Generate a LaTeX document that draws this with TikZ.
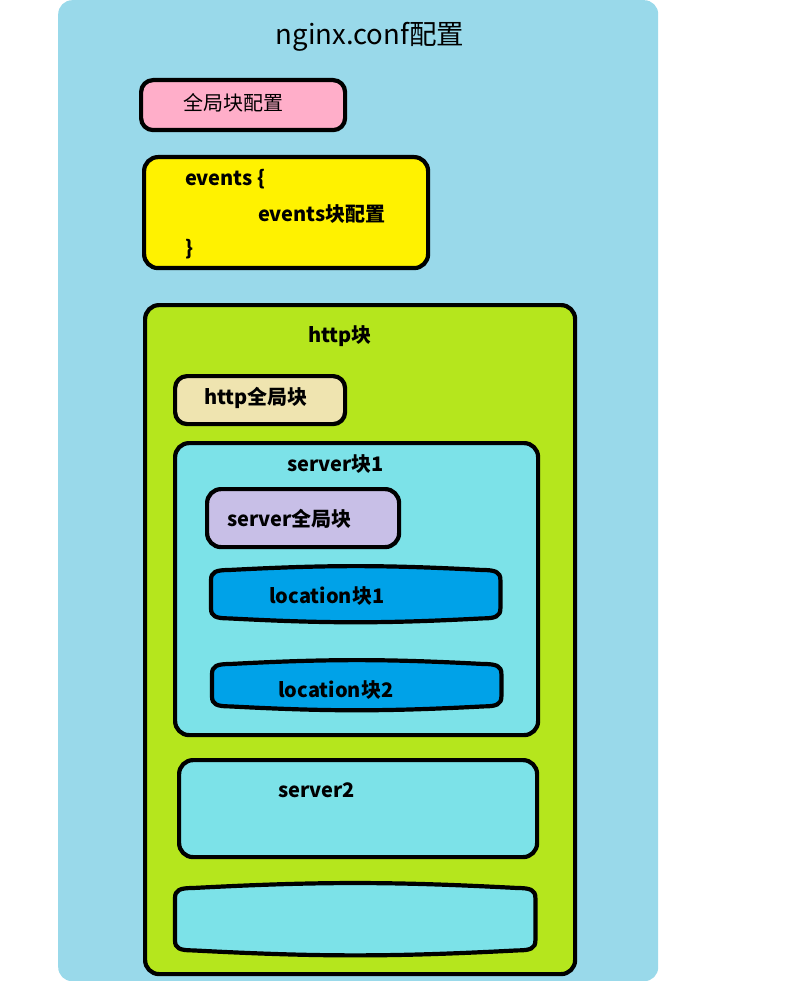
\documentclass[tikz,border=0pt]{standalone}
\usepackage{fontspec}
\setmainfont{Noto Sans CJK SC}
\usetikzlibrary{positioning,calc}

\definecolor{confblue}{HTML}{99D9EA}
\definecolor{globpink}{HTML}{FFAEC9}
\definecolor{evyellow}{HTML}{FFF200}
\definecolor{httpgreen}{HTML}{B5E61D}
\definecolor{httptan}{HTML}{EFE4B0}
\definecolor{srvcyan}{HTML}{7CE2E8}
\definecolor{srvlilac}{HTML}{C8BFE7}
\definecolor{locblue}{HTML}{00A2E8}

\tikzset{
  blk/.style={draw=black, line width=4.2pt, rounded corners=14pt,
    inner sep=0pt, anchor=north west},
  ghost/.style={inner sep=0pt, anchor=north west},
  barrel/.style={draw=black, line width=4.2pt},
  lbl/.style={font=\bfseries\fontsize{20}{24}\selectfont, inner sep=0pt, anchor=west},
}

% barrel outline round a (ghost) node: #1 node, #2 fill
\newcommand\barrelbox[2]{%
  \filldraw[barrel, fill=#2] (#1.west)
    -- ([yshift=-13pt]#1.north west)
    .. controls ([yshift=-5pt]#1.north west) and ([xshift=5pt,yshift=-3pt]#1.north west)
    .. ([xshift=18pt,yshift=-3pt]#1.north west)
    to[bend left=3] ([xshift=-18pt,yshift=-3pt]#1.north east)
    .. controls ([xshift=-5pt,yshift=-3pt]#1.north east) and ([yshift=-5pt]#1.north east)
    .. ([yshift=-13pt]#1.north east)
    -- ([yshift=13pt]#1.south east)
    .. controls ([yshift=5pt]#1.south east) and ([xshift=-5pt,yshift=3pt]#1.south east)
    .. ([xshift=-18pt,yshift=3pt]#1.south east)
    to[bend left=3] ([xshift=18pt,yshift=3pt]#1.south west)
    .. controls ([xshift=5pt,yshift=3pt]#1.south west) and ([yshift=5pt]#1.south west)
    .. ([yshift=13pt]#1.south west)
    -- cycle;}

\begin{document}
\begin{tikzpicture}[x=1pt,y=-1pt]
  \useasboundingbox (0,0) rectangle (785,981);

  % WHOLE FILE
  \node[ghost, fill=confblue, rounded corners=14pt,
    minimum width=600pt, minimum height=981pt] (conf) at (58,0) {};
  \node[font=\fontsize{27.5}{32}\selectfont, inner sep=0pt] (title) at (370,37) {nginx.conf配置};

  % GLOBAL + EVENTS
  \node[blk, fill=globpink, rounded corners=12pt,
    minimum width=204pt, minimum height=50pt] (glob) at (139,78) {};
  \node[lbl, font=\fontsize{20}{24}\selectfont] (globlbl) at (183,103) {全局块配置};

  \node[blk, fill=evyellow, minimum width=284pt, minimum height=111pt] (events) at (142,155) {};
  \node[lbl] (evopen) at (185,179) {events \{};
  \node[lbl] (evbody) at (258,214) {events块配置};
  \node[lbl] (evclose) at (185,249) {\}};

  % HTTP BLOCK
  \node[blk, fill=httpgreen, minimum width=430pt, minimum height=669pt] (http) at (143,303) {};
  \node[lbl, anchor=center] (httplbl) at (340,336) {http块};

  \node[blk, fill=httptan, rounded corners=12pt,
    minimum width=170pt, minimum height=48pt] (httpglob) at (173,374) {};
  \node[lbl] (httpgloblbl) at (204,398) {http全局块};

  % server 1
  \node[blk, fill=srvcyan, minimum width=363pt, minimum height=292pt] (srv1) at (173,441) {};
  \node[lbl] (srv1lbl) at (287,464) {server块1};

  \node[blk, fill=srvlilac, rounded corners=14pt,
    minimum width=192pt, minimum height=58pt] (srvglob) at (205,487) {};
  \node[lbl] (srvgloblbl) at (227,519) {server全局块};

  \node[ghost, minimum width=289pt, minimum height=54pt] (loc1) at (211,567) {};
  \barrelbox{loc1}{locblue}
  \node[lbl] (loc1lbl) at (269,596) {location块1};

  \node[ghost, minimum width=289pt, minimum height=48pt] (loc2) at (212,661) {};
  \barrelbox{loc2}{locblue}
  \node[lbl] (loc2lbl) at (278,690) {location块2};

  % server 2 and one more
  \node[blk, fill=srvcyan, minimum width=358pt, minimum height=97pt] (srv2) at (177,758) {};
  \node[lbl] (srv2lbl) at (278,790) {server2};

  \node[ghost, minimum width=360pt, minimum height=68pt] (srvn) at (175,885) {};
  \barrelbox{srvn}{srvcyan}
\end{tikzpicture}
\end{document}
